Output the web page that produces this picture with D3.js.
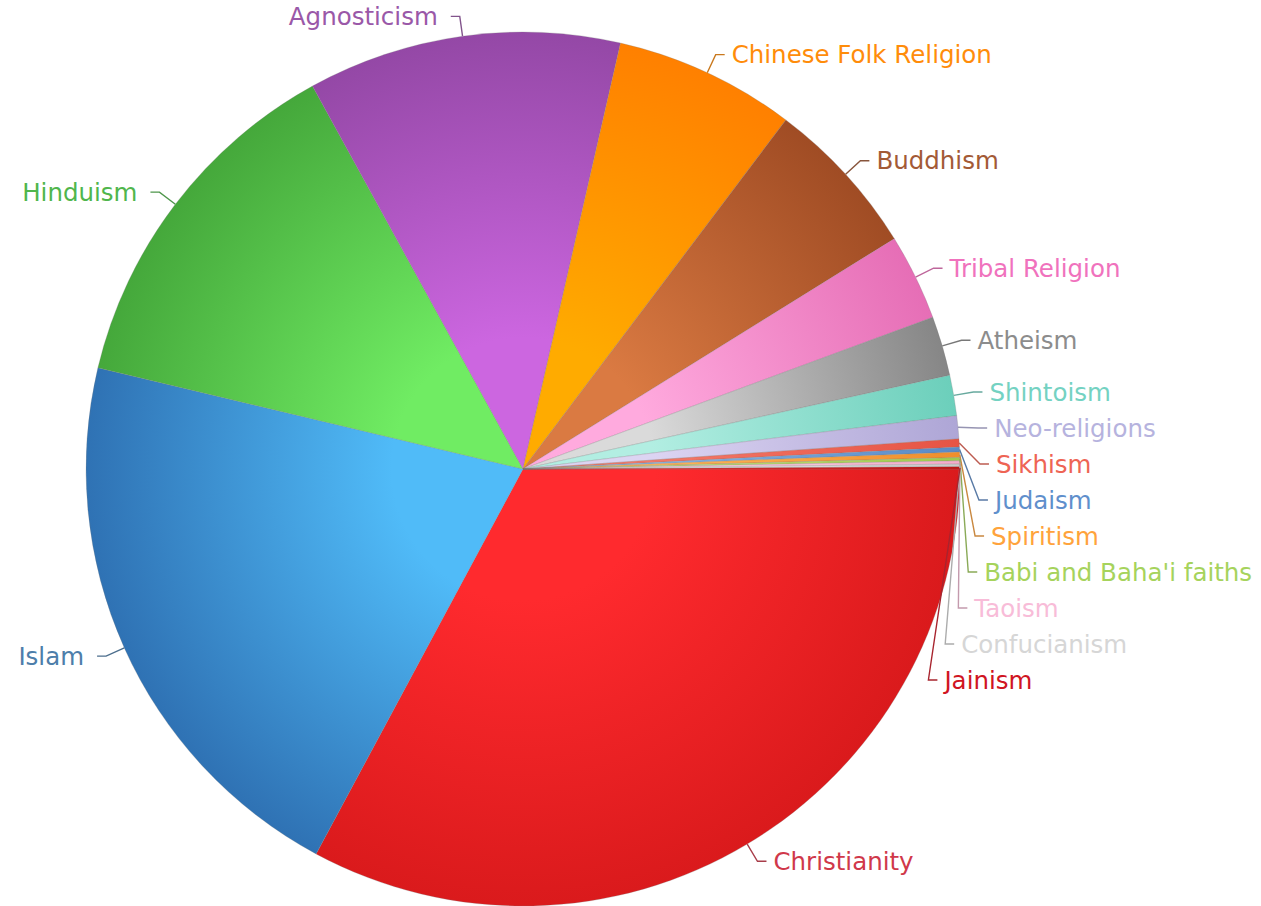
<!DOCTYPE html>
<html>
<head>
<meta charset="utf-8">
<script src="https://cdn.jsdelivr.net/npm/d3@7"></script>
<style>
  html, body { margin: 0; padding: 0; background: #ffffff; }
  svg { display: block; }
</style>
</head>
<body>
<svg id="chart" width="1261" height="906"></svg>
<script>
// ---- data ----
const categories = [
  "Christianity", "Islam", "Hinduism", "Agnosticism", "Chinese Folk Religion",
  "Buddhism", "Tribal Religion", "Atheism", "Shintoism", "Neo-religions",
  "Sikhism", "Judaism", "Spiritism", "Babi and Baha'i faiths", "Taoism",
  "Confucianism", "Jainism"
];
const values = [
  32.9, 20.9, 13.3, 11.6, 6.7,
  5.9, 3.2, 2.2, 1.5, 0.85,
  0.3, 0.18, 0.2, 0.12, 0.12,
  0.1, 0.08
];

// ---- styles ----
const lightColors = ["#ff2a2e", "#50bbf8", "#70ec63", "#cc66e0", "#ffab00",
  "#da7a42", "#ffaade", "#dadada", "#b2eee2", "#dcd4f2",
  "#f47868", "#84b4e4", "#ffb658", "#c4e478", "#ffd4e4",
  "#ececec", "#e62424"];
const darkColors = ["#da1a1c", "#2f72b4", "#45a83b", "#9448a6", "#ff8000",
  "#a04c24", "#e66eb6", "#868686", "#6ccfbb", "#aea6d6",
  "#e65444", "#5a8ac6", "#f08e2c", "#9ecb4e", "#f2accb",
  "#cacaca", "#c01010"];
const textColors = ["#d0384a", "#4d7eaa", "#50b64c", "#9a58a8", "#ff8c0a",
  "#a35a36", "#f072bd", "#8c8c8c", "#74d2c2", "#b6b3de",
  "#ee6454", "#5f8fcc", "#ffa33c", "#a6d35c", "#f8bcd8",
  "#d6d6d6", "#d01422"];

const W = 1261, H = 906;
const cx = 523, cy = 469, R = 437;
const outerR = R + 20;
const hSeg = 9, gapR = 7, gapL = 13, minSpacing = 36;

const svg = d3.select("#chart");
const defs = svg.append("defs");

categories.forEach((c, i) => {
  const g = defs.append("radialGradient")
    .attr("id", "grad" + i)
    .attr("gradientUnits", "userSpaceOnUse")
    .attr("cx", 0).attr("cy", 0).attr("r", R)
    .attr("fx", 0).attr("fy", 0);
  g.append("stop").attr("offset", "0%").attr("stop-color", lightColors[i]);
  g.append("stop").attr("offset", "30%").attr("stop-color", lightColors[i]);
  g.append("stop").attr("offset", "100%").attr("stop-color", darkColors[i]);
});

const pie = d3.pie().sort(null).value(d => d)
  .startAngle(Math.PI / 2).endAngle(Math.PI / 2 + 2 * Math.PI);
const arcs = pie(values);
const arc = d3.arc().innerRadius(0).outerRadius(R);

const gPie = svg.append("g").attr("transform", `translate(${cx},${cy})`);
gPie.selectAll("path.slice")
  .data(arcs)
  .join("path")
  .attr("class", "slice")
  .attr("d", arc)
  .attr("fill", (d, i) => `url(#grad${i})`)
  .attr("stroke", "#777")
  .attr("stroke-opacity", 0.35)
  .attr("stroke-width", 0.7);

// ---- labels ----
const labels = arcs.map((d, i) => {
  const a = (d.startAngle + d.endAngle) / 2;
  const sx = Math.sin(a), sy = -Math.cos(a);
  return {
    i, name: categories[i],
    ex: cx + R * sx, ey: cy + R * sy,
    y: cy + outerR * sy,
    right: sx >= 0
  };
});

function layoutSide(list) {
  list.sort((a, b) => a.y - b.y);
  for (let k = 1; k < list.length; k++) {
    if (list[k].y - list[k - 1].y < minSpacing) list[k].y = list[k - 1].y + minSpacing;
  }
}
layoutSide(labels.filter(l => l.right));
layoutSide(labels.filter(l => !l.right));

labels.forEach(l => {
  const dy = l.y - cy;
  const dx = Math.sqrt(Math.max(0, outerR * outerR - dy * dy));
  l.ox = l.right ? cx + dx : cx - dx;
  l.hx = l.right ? l.ox + hSeg : l.ox - hSeg;
  l.tx = l.right ? l.hx + gapR : l.hx - gapL;
});

const gLab = svg.append("g");
gLab.selectAll("polyline")
  .data(labels)
  .join("polyline")
  .attr("points", l => `${l.ex},${l.ey} ${l.ox},${l.y} ${l.hx},${l.y}`)
  .attr("fill", "none")
  .attr("stroke", l => d3.interpolateRgb(textColors[l.i], "#4a4a4a")(0.3))
  .attr("stroke-width", 1.4);

gLab.selectAll("text")
  .data(labels)
  .join("text")
  .attr("x", l => l.tx)
  .attr("y", l => l.y)
  .attr("dy", "0.35em")
  .attr("text-anchor", l => l.right ? "start" : "end")
  .attr("font-family", "'DejaVu Sans', Verdana, sans-serif")
  .attr("font-size", 24.5)
  .attr("fill", l => textColors[l.i])
  .text(l => l.name);
</script>
</body>
</html>
